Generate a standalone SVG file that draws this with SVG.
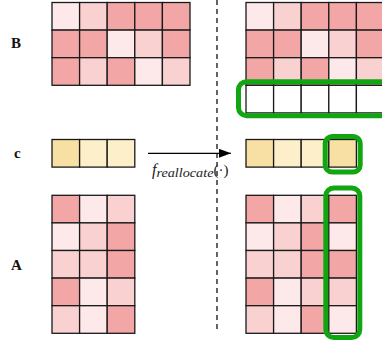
<svg xmlns="http://www.w3.org/2000/svg" width="382" height="342" viewBox="0 0 382 342">
<style>
rect.c{stroke:#1a1a1a;stroke-width:1.3}
.d{fill:#f3a6a6}.m{fill:#f9d1d1}.l{fill:#fde9e9}.w{fill:#ffffff}
.yd{fill:#f8e0a5}.yl{fill:#fcefca}
.hl{fill:none;stroke:#11a611;stroke-width:5}
.lab{font-family:"Liberation Serif",serif;font-weight:bold;font-size:15px;fill:#111}
.fn{font-family:"Liberation Serif",serif;font-style:italic;fill:#222}
</style>
<defs>
<marker id="ah" viewBox="0 0 12 9" refX="12" refY="4.5" markerWidth="12" markerHeight="9" markerUnits="userSpaceOnUse" orient="auto">
<path d="M0,0 L12,4.5 L0,9 Z" fill="#000"/>
</marker>
</defs>
<rect width="382" height="342" fill="#fff"/>

<g id="labels">
<text class="lab" x="11" y="48">B</text>
<text class="lab" x="14" y="158">c</text>
<text class="lab" x="11" y="270">A</text>
</g>

<g id="connectors">
<line x1="217" y1="0" x2="217" y2="330" stroke="#111" stroke-width="1.3" stroke-dasharray="5,4"/>
<line x1="148" y1="153.3" x2="231" y2="153.3" stroke="#000" stroke-width="1.3" marker-end="url(#ah)"/>
<text class="fn" x="152" y="175" font-size="16">f<tspan font-size="11.5" dy="2" textLength="57" lengthAdjust="spacingAndGlyphs">reallocate</tspan><tspan dy="-2" font-size="15" font-style="normal">(·)</tspan></text>
</g>

<g id="B-left">
<rect class="c l" x="52" y="2.5" width="27.6" height="27.6"/>
<rect class="c m" x="79.6" y="2.5" width="27.6" height="27.6"/>
<rect class="c d" x="107.2" y="2.5" width="27.6" height="27.6"/>
<rect class="c d" x="134.8" y="2.5" width="27.6" height="27.6"/>
<rect class="c d" x="162.4" y="2.5" width="27.6" height="27.6"/>
<rect class="c d" x="52" y="30.1" width="27.6" height="27.6"/>
<rect class="c d" x="79.6" y="30.1" width="27.6" height="27.6"/>
<rect class="c l" x="107.2" y="30.1" width="27.6" height="27.6"/>
<rect class="c m" x="134.8" y="30.1" width="27.6" height="27.6"/>
<rect class="c d" x="162.4" y="30.1" width="27.6" height="27.6"/>
<rect class="c d" x="52" y="57.7" width="27.6" height="27.6"/>
<rect class="c m" x="79.6" y="57.7" width="27.6" height="27.6"/>
<rect class="c d" x="107.2" y="57.7" width="27.6" height="27.6"/>
<rect class="c l" x="134.8" y="57.7" width="27.6" height="27.6"/>
<rect class="c m" x="162.4" y="57.7" width="27.6" height="27.6"/>
</g>

<g id="B-right">
<rect class="c l" x="246" y="2.5" width="27.6" height="27.6"/>
<rect class="c m" x="273.6" y="2.5" width="27.6" height="27.6"/>
<rect class="c d" x="301.2" y="2.5" width="27.6" height="27.6"/>
<rect class="c d" x="328.8" y="2.5" width="27.6" height="27.6"/>
<rect class="c d" x="356.4" y="2.5" width="27.6" height="27.6"/>
<rect class="c d" x="246" y="30.1" width="27.6" height="27.6"/>
<rect class="c d" x="273.6" y="30.1" width="27.6" height="27.6"/>
<rect class="c l" x="301.2" y="30.1" width="27.6" height="27.6"/>
<rect class="c m" x="328.8" y="30.1" width="27.6" height="27.6"/>
<rect class="c d" x="356.4" y="30.1" width="27.6" height="27.6"/>
<rect class="c d" x="246" y="57.7" width="27.6" height="27.6"/>
<rect class="c m" x="273.6" y="57.7" width="27.6" height="27.6"/>
<rect class="c d" x="301.2" y="57.7" width="27.6" height="27.6"/>
<rect class="c l" x="328.8" y="57.7" width="27.6" height="27.6"/>
<rect class="c m" x="356.4" y="57.7" width="27.6" height="27.6"/>
<rect class="c w" x="246" y="85.3" width="27.6" height="27.6"/>
<rect class="c w" x="273.6" y="85.3" width="27.6" height="27.6"/>
<rect class="c w" x="301.2" y="85.3" width="27.6" height="27.6"/>
<rect class="c w" x="328.8" y="85.3" width="27.6" height="27.6"/>
<rect class="c w" x="356.4" y="85.3" width="27.6" height="27.6"/>
<rect class="hl" x="238.5" y="81.7" width="160" height="34" rx="8"/>
</g>

<g id="c-left">
<rect class="c yd" x="52" y="139.5" width="27.6" height="27.6"/>
<rect class="c yl" x="79.6" y="139.5" width="27.6" height="27.6"/>
<rect class="c yl" x="107.2" y="139.5" width="27.6" height="27.6"/>
</g>

<g id="c-right">
<rect class="c yd" x="246" y="139.5" width="27.6" height="27.6"/>
<rect class="c yl" x="273.6" y="139.5" width="27.6" height="27.6"/>
<rect class="c yl" x="301.2" y="139.5" width="27.6" height="27.6"/>
<rect class="c yd" x="328.8" y="139.5" width="27.6" height="27.6"/>
<rect class="hl" x="325.2" y="136.5" width="35" height="35.5" rx="7"/>
</g>

<g id="A-left">
<rect class="c d" x="52" y="195.3" width="27.6" height="27.6"/>
<rect class="c l" x="79.6" y="195.3" width="27.6" height="27.6"/>
<rect class="c m" x="107.2" y="195.3" width="27.6" height="27.6"/>
<rect class="c l" x="52" y="222.9" width="27.6" height="27.6"/>
<rect class="c m" x="79.6" y="222.9" width="27.6" height="27.6"/>
<rect class="c d" x="107.2" y="222.9" width="27.6" height="27.6"/>
<rect class="c m" x="52" y="250.5" width="27.6" height="27.6"/>
<rect class="c m" x="79.6" y="250.5" width="27.6" height="27.6"/>
<rect class="c d" x="107.2" y="250.5" width="27.6" height="27.6"/>
<rect class="c d" x="52" y="278.1" width="27.6" height="27.6"/>
<rect class="c l" x="79.6" y="278.1" width="27.6" height="27.6"/>
<rect class="c m" x="107.2" y="278.1" width="27.6" height="27.6"/>
<rect class="c m" x="52" y="305.7" width="27.6" height="27.6"/>
<rect class="c l" x="79.6" y="305.7" width="27.6" height="27.6"/>
<rect class="c d" x="107.2" y="305.7" width="27.6" height="27.6"/>
</g>

<g id="A-right">
<rect class="c d" x="246" y="195.3" width="27.6" height="27.6"/>
<rect class="c l" x="273.6" y="195.3" width="27.6" height="27.6"/>
<rect class="c m" x="301.2" y="195.3" width="27.6" height="27.6"/>
<rect class="c d" x="328.8" y="195.3" width="27.6" height="27.6"/>
<rect class="c l" x="246" y="222.9" width="27.6" height="27.6"/>
<rect class="c m" x="273.6" y="222.9" width="27.6" height="27.6"/>
<rect class="c d" x="301.2" y="222.9" width="27.6" height="27.6"/>
<rect class="c l" x="328.8" y="222.9" width="27.6" height="27.6"/>
<rect class="c m" x="246" y="250.5" width="27.6" height="27.6"/>
<rect class="c m" x="273.6" y="250.5" width="27.6" height="27.6"/>
<rect class="c d" x="301.2" y="250.5" width="27.6" height="27.6"/>
<rect class="c d" x="328.8" y="250.5" width="27.6" height="27.6"/>
<rect class="c d" x="246" y="278.1" width="27.6" height="27.6"/>
<rect class="c l" x="273.6" y="278.1" width="27.6" height="27.6"/>
<rect class="c m" x="301.2" y="278.1" width="27.6" height="27.6"/>
<rect class="c m" x="328.8" y="278.1" width="27.6" height="27.6"/>
<rect class="c m" x="246" y="305.7" width="27.6" height="27.6"/>
<rect class="c l" x="273.6" y="305.7" width="27.6" height="27.6"/>
<rect class="c d" x="301.2" y="305.7" width="27.6" height="27.6"/>
<rect class="c l" x="328.8" y="305.7" width="27.6" height="27.6"/>
<rect class="hl" x="325.8" y="188" width="34" height="149.5" rx="8"/>
</g>
</svg>
